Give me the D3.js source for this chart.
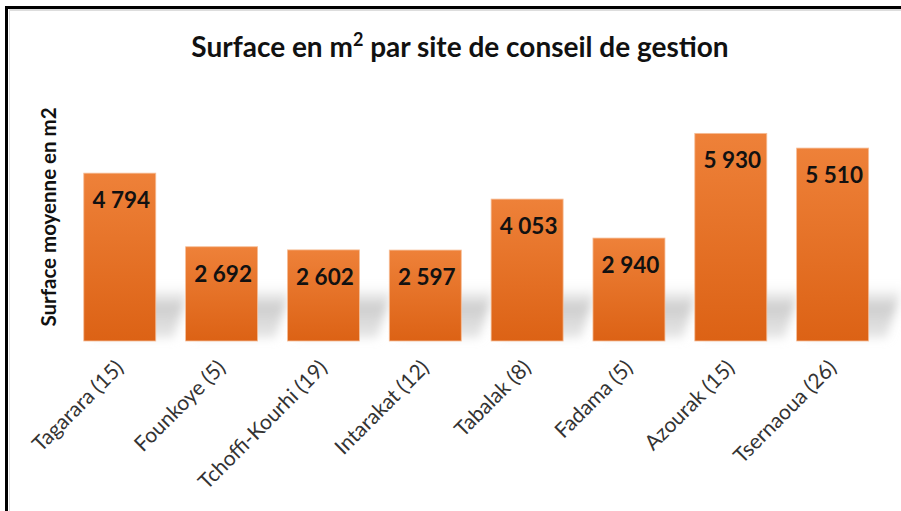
<!DOCTYPE html>
<html>
<head>
<meta charset="utf-8">
<script src="https://cdn.jsdelivr.net/npm/d3@7/dist/d3.min.js"></script>
<style>
  html, body { margin: 0; padding: 0; background: #fff; }
  svg { display: block; }
</style>
</head>
<body>
<svg id="chart" width="901" height="511"></svg>
<script>
const categories = ["Tagarara (15)", "Founkoye (5)", "Tchoffi-Kourhi (19)", "Intarakat (12)", "Tabalak (8)", "Fadama (5)", "Azourak (15)", "Tsernaoua (26)"];
const values = [4794, 2692, 2602, 2597, 4053, 2940, 5930, 5510];
const valueLabels = ["4 794", "2 692", "2 602", "2 597", "4 053", "2 940", "5 930", "5 510"];
const titleMain = "Surface en m";
const titleSup = "2";
const titleRest = " par site de conseil de gestion";
const yAxisTitle = "Surface moyenne en m2";

const svg = d3.select("#chart");
const W = 901, H = 511;
const font = "Lato, 'Open Sans', sans-serif";

const x = d3.scaleBand().domain(categories).range([68.8, 883.6]).paddingInner(0.293).paddingOuter(0.147);
const y = d3.scaleLinear().domain([0, 7000]).range([341, 95.9]);

const defs = svg.append("defs");
const bg = defs.append("linearGradient").attr("id", "barGrad").attr("x1", 0).attr("y1", 0).attr("x2", 0).attr("y2", 1);
bg.append("stop").attr("offset", "0%").attr("stop-color", "#EE8139");
bg.append("stop").attr("offset", "100%").attr("stop-color", "#DC6215");

const sg = defs.append("linearGradient").attr("id", "shadowGrad").attr("x1", 0).attr("y1", 0).attr("x2", 0).attr("y2", 1);
sg.append("stop").attr("offset", "0%").attr("stop-color", "#c4c4c4").attr("stop-opacity", 0);
sg.append("stop").attr("offset", "40%").attr("stop-color", "#c4c4c4").attr("stop-opacity", 0.85);
sg.append("stop").attr("offset", "100%").attr("stop-color", "#d8d8d8").attr("stop-opacity", 0.6);

const blur = defs.append("filter").attr("id", "blur").attr("x", "-30%").attr("y", "-50%").attr("width", "160%").attr("height", "200%");
blur.append("feGaussianBlur").attr("stdDeviation", 5);

svg.append("rect").attr("width", W).attr("height", H).attr("fill", "#fff");

// border (top and left)
svg.append("line").attr("x1", 9).attr("x2", W).attr("y1", 10).attr("y2", 10).attr("stroke", "#bbb").attr("stroke-width", 1);
svg.append("line").attr("x1", 9.5).attr("x2", 9.5).attr("y1", 10).attr("y2", H).attr("stroke", "#ddd").attr("stroke-width", 1);
svg.append("line").attr("x1", 5).attr("x2", W).attr("y1", 7.5).attr("y2", 7.5).attr("stroke", "#000").attr("stroke-width", 3);
svg.append("line").attr("x1", 6.5).attr("x2", 6.5).attr("y1", 6).attr("y2", H).attr("stroke", "#000").attr("stroke-width", 3);

// shadows
const shadowG = svg.append("g").attr("filter", "url(#blur)");
shadowG.selectAll("path").data(values).join("path")
  .attr("d", (d, i) => {
    const x0 = x(categories[i]);
    const w = x.bandwidth();
    const b = y(0);
    const top = b - 54;
    return `M${x0 + 8},${b - 3} L${x0 + 30},${top} L${x0 + w + 34},${top} L${x0 + w + 18},${b - 3} Z`;
  })
  .attr("fill", "url(#shadowGrad)");

// bars
svg.append("g").selectAll("rect").data(values).join("rect")
  .attr("x", (d, i) => x(categories[i]))
  .attr("y", d => y(d))
  .attr("width", x.bandwidth())
  .attr("height", d => y(0) - y(d))
  .attr("fill", "url(#barGrad)")
  .attr("stroke", "#F6BE98")
  .attr("stroke-width", 0.8);

// value labels
svg.append("g").selectAll("text").data(values).join("text")
  .attr("x", (d, i) => x(categories[i]) + x.bandwidth() / 2 + 1.5)
  .attr("y", d => y(d) + 35)
  .attr("text-anchor", "middle")
  .attr("font-family", font)
  .attr("font-weight", 700)
  .attr("font-size", 22.5)
  .attr("fill", "#111")
  .text((d, i) => valueLabels[i]);

// x axis labels
svg.append("g").selectAll("text").data(categories).join("text")
  .attr("transform", d => `translate(${x(d) + x.bandwidth() / 2 + 5},${369}) rotate(-45)`)
  .attr("text-anchor", "end")
  .attr("font-family", font)
  .attr("font-size", 21)
  .attr("fill", "#333")
  .text(d => d);

// title
const t = svg.append("text")
  .attr("x", 460).attr("y", 57)
  .attr("text-anchor", "middle")
  .attr("font-family", font)
  .attr("font-weight", 700)
  .attr("font-size", 28)
  .attr("fill", "#111");
t.append("tspan").text(titleMain);
t.append("tspan").attr("dy", -11).attr("font-size", 18).text(titleSup);
t.append("tspan").attr("dy", 11).text(titleRest);

// y axis title
svg.append("text")
  .attr("transform", "translate(56,217) rotate(-90)")
  .attr("text-anchor", "middle")
  .attr("font-family", font)
  .attr("font-weight", 700)
  .attr("font-size", 20.5)
  .attr("fill", "#111")
  .text(yAxisTitle);
</script>
</body>
</html>
